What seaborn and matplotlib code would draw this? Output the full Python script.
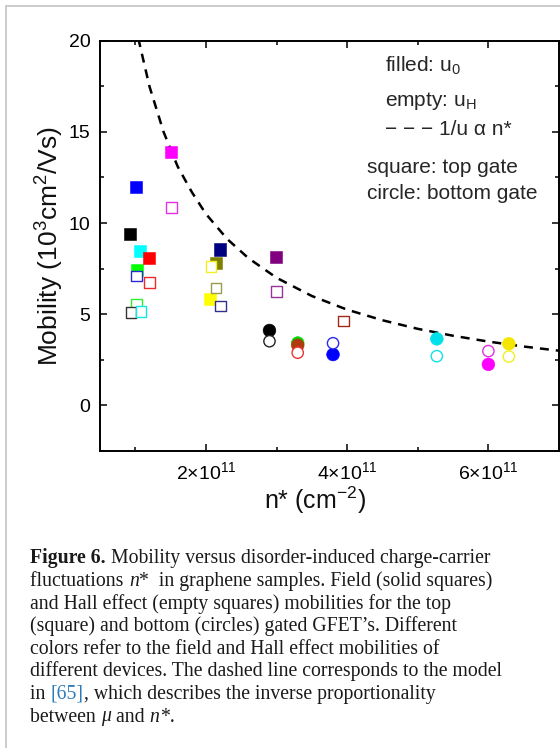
import matplotlib
matplotlib.use("Agg")
import matplotlib.pyplot as plt
import seaborn as sns
import pandas as pd
from matplotlib.lines import Line2D
from matplotlib.ticker import FixedLocator, FixedFormatter, MultipleLocator

# ---------------- data (n* in units of 1e11 cm^-2, mobility in 1e3 cm^2/Vs) -------------
# top gate (squares), filled = u0 (field effect)
filled_sq_n = [1.50, 1.01, 0.93, 1.02, 1.07, 1.20, 2.20, 2.14, 2.06, 2.99]
filled_sq_mu = [13.9, 12.0, 9.41, 7.40, 8.46, 8.11, 8.55, 7.82, 5.84, 8.16]
filled_sq_color = ["#ff00ff", "#0000ff", "#000000", "#00ff00", "#00ffff", "#ff0000",
                   "#000080", "#808000", "#ffff00", "#800080"]
# top gate (squares), empty = uH (Hall)
open_sq_n = [1.51, 1.02, 1.20, 1.02, 0.94, 1.08, 2.07, 2.14, 2.21, 3.00, 3.95]
open_sq_mu = [10.85, 7.09, 6.74, 5.57, 5.11, 5.15, 7.63, 6.45, 5.44, 6.25, 4.62]
open_sq_color = ["#e030e0", "#2a2ad0", "#ee2a2a", "#30ee30", "#333333", "#10e8e8",
                 "#f2f020", "#9a9a50", "#303090", "#993399", "#a02a1a"]
# bottom gate (circles)
filled_ci_n = [2.90, 3.30, 3.30, 3.80, 5.27, 6.00, 6.29]
filled_ci_mu = [4.11, 3.42, 3.30, 2.79, 3.65, 2.25, 3.38]
filled_ci_color = ["#000000", "#00dd00", "#b03a10", "#0000ff", "#00e0e8", "#ff00ff", "#f5e600"]
open_ci_n = [2.90, 3.30, 3.80, 5.27, 6.00, 6.29]
open_ci_mu = [3.52, 2.89, 3.41, 2.70, 2.98, 2.68]
open_ci_color = ["#222222", "#ee3333", "#2a2aee", "#10e0e8", "#e030e0", "#f2ee20"]
# model: 1/u proportional to n*
model_n = [1.00, 1.05, 1.20, 1.40, 1.60, 1.80, 2.00, 2.30, 2.60, 3.00, 3.50, 4.00,
           4.50, 5.00, 5.50, 6.00, 6.50, 7.00]
model_mu = [21.0, 20.0, 17.5, 15.0, 13.1, 11.7, 10.5, 9.13, 8.08, 7.00, 6.00, 5.25,
            4.67, 4.20, 3.82, 3.50, 3.23, 3.00]

x_ticks = [2, 4, 6]
x_tick_labels = ["2×10$^{11}$", "4×10$^{11}$", "6×10$^{11}$"]
y_ticks = [0, 5, 10, 15, 20]
y_tick_labels = ["0", "5", "10", "15", "20"]

caption_lines = [
    [("Figure 6.", "bold"), (" Mobility versus disorder-induced charge-carrier", "normal")],
    [("fluctuations ", "normal"), ("n", "italic"), ("*  in graphene samples. Field (solid squares)", "normal")],
    [("and Hall effect (empty squares) mobilities for the top", "normal")],
    [("(square) and bottom (circles) gated GFET\u2019s. Different", "normal")],
    [("colors refer to the field and Hall effect mobilities of", "normal")],
    [("different devices. The dashed line corresponds to the model", "normal")],
    [("in ", "normal"), ("[65]", "link"), (", which describes the inverse proportionality", "normal")],
    [("between ", "normal"), ("\u03bc", "italic"), (" and ", "normal"), ("n", "italic"), ("*.", "normal")],
]

# ---------------- style ----------------
sns.set_theme(style="ticks")
plt.rcParams["font.family"] = ["Liberation Sans", "DejaVu Sans"]
plt.rcParams["mathtext.fontset"] = "custom"
plt.rcParams["mathtext.rm"] = "Liberation Sans"
plt.rcParams["mathtext.it"] = "Liberation Sans:italic"
plt.rcParams["mathtext.bf"] = "Liberation Sans:bold"

W, H = 560, 748
fig = plt.figure(figsize=(W / 100, H / 100), dpi=100)
fig.patch.set_facecolor("white")
ax_l, ax_r, ax_t, ax_b = 100, 559, 40.7, 451
ax = fig.add_axes([ax_l / W, 1 - ax_b / H, (ax_r - ax_l) / W, (ax_b - ax_t) / H])
ax.set_facecolor("white")

# dashed model line
sns.lineplot(x=model_n, y=model_mu, ax=ax, color="black", lw=1.8,
             linestyle=(0, (3.6, 2.8)), sort=False, zorder=2)


def draw(ns, mus, colors, marker, filled, s):
    df = pd.DataFrame({"n": ns, "mu": mus, "c": colors})
    pal = {c: c for c in colors}
    if filled:
        sns.scatterplot(data=df, x="n", y="mu", hue="c", palette=pal, marker=marker,
                        s=s, edgecolor="face", linewidth=0.4, legend=False, ax=ax, zorder=3)
    else:
        sns.scatterplot(data=df, x="n", y="mu", hue="c", palette=pal, marker=marker,
                        s=s, linewidth=1.0, legend=False, ax=ax, zorder=3)
        pts = ax.collections[-1]
        pts.set_edgecolor(pts.get_facecolor())
        pts.set_facecolor("white")


draw(filled_sq_n, filled_sq_mu, filled_sq_color, "s", True, 75)
draw(open_sq_n, open_sq_mu, open_sq_color, "s", False, 58)
draw(filled_ci_n, filled_ci_mu, filled_ci_color, "o", True, 84)
draw(open_ci_n, open_ci_mu, open_ci_color, "o", False, 66)

ax.set_xlim(0.5, 7.0)
ax.set_ylim(-2.5, 20)
ax.xaxis.set_major_locator(FixedLocator(x_ticks))
ax.xaxis.set_major_formatter(FixedFormatter(x_tick_labels))
ax.xaxis.set_minor_locator(MultipleLocator(1))
ax.yaxis.set_major_locator(FixedLocator(y_ticks))
ax.yaxis.set_major_formatter(FixedFormatter(y_tick_labels))
ax.yaxis.set_minor_locator(MultipleLocator(2.5))
ax.tick_params(which="both", direction="in", top=True, right=True, width=1.1,
               colors="black", labelsize=14, pad=7)
ax.tick_params(which="major", length=5)
ax.tick_params(which="minor", length=3)
for sp in ax.spines.values():
    sp.set_visible(True)
    sp.set_linewidth(1.4)
    sp.set_color("black")

ax.set_xlabel("n* (cm$^{-2}$)", fontsize=18, color="#111111")
ax.set_ylabel("Mobility (10$^{3}$cm$^{2}$/Vs)", fontsize=19, color="#111111")
ax.xaxis.label.set_va("center")
ax.yaxis.label.set_va("center")
ax.xaxis.set_label_coords(0.468, -0.119)
ax.yaxis.set_label_coords(-0.109, 0.5)

# in-plot annotation
LFS = 15
ax.text(0.621, 0.9245, "filled: u$_{0}$", transform=ax.transAxes, fontsize=LFS, va="baseline")
ax.text(0.621, 0.8416, "empty: u$_{\\mathrm{H}}$", transform=ax.transAxes, fontsize=LFS, va="baseline")
ax.text(0.621, 0.770, "\u2212 \u2212 \u2212 1/u \u03b1 n*", transform=ax.transAxes, fontsize=LFS,
        va="baseline")
ax.text(0.5817, 0.6768, "square: top gate", transform=ax.transAxes, fontsize=LFS, va="baseline")
ax.text(0.5817, 0.6135, "circle: bottom gate", transform=ax.transAxes, fontsize=LFS, va="baseline")

# grey frame of the figure box
fig.add_artist(Line2D([6 / W, 6 / W], [1 - 6 / H, 0], transform=fig.transFigure,
                      color="#c8c8c8", lw=1.3))
fig.add_artist(Line2D([6 / W, 1], [1 - 6 / H, 1 - 6 / H], transform=fig.transFigure,
                      color="#c8c8c8", lw=1.3))

# caption
CFS = 14.2
renderer = fig.canvas.get_renderer()
styles = {
    "normal": dict(family="Liberation Serif", color="#1a1a1a"),
    "bold": dict(family="Liberation Serif", weight="bold", color="#1a1a1a"),
    "italic": dict(family="Liberation Serif", style="italic", color="#1a1a1a"),
    "link": dict(family="Liberation Serif", color="#2b7bb9"),
}


def seg_width(s, st):
    t1 = fig.text(0, 0, "|" + s + "|", fontsize=CFS, **styles[st])
    w1 = t1.get_window_extent(renderer).width
    t1.remove()
    t0 = fig.text(0, 0, "||", fontsize=CFS, **styles[st])
    w0 = t0.get_window_extent(renderer).width
    t0.remove()
    return w1 - w0


x0, y0, dy = 30.5, 563.3, 22.6
for i, line in enumerate(caption_lines):
    x = x0
    y = y0 + i * dy
    for s, st in line:
        fig.text(x / W, 1 - y / H, s, fontsize=CFS, va="baseline", ha="left", **styles[st])
        x += seg_width(s, st)

fig.savefig("out.png", dpi=100, facecolor="white")
